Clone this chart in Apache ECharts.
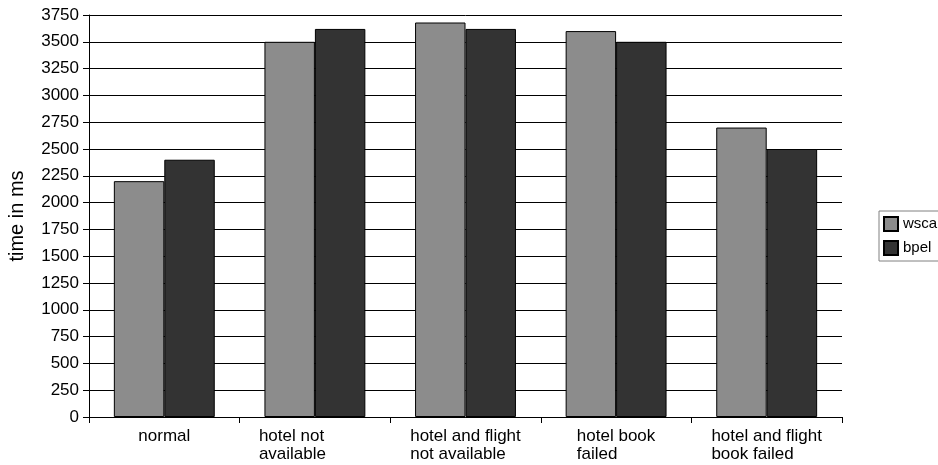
<!DOCTYPE html>
<html>
<head>
<meta charset="utf-8">
<script src="https://cdn.jsdelivr.net/npm/echarts@6/dist/echarts.min.js"></script>
<style>
html, body { margin: 0; padding: 0; background: #fff; }
#main { width: 938px; height: 465px; }
</style>
</head>
<body>
<div id="main"></div>
<script>
var categories = ['normal', 'hotel not\navailable', 'hotel and flight\nnot available', 'hotel book\nfailed', 'hotel and flight\nbook failed'];
var wsca = [2200, 3500, 3680, 3600, 2700];
var bpel = [2400, 3620, 3620, 3500, 2500];

var font = 'Liberation Sans, Arial, sans-serif';

option = {
  animation: false,
  backgroundColor: '#fff',
  textStyle: { fontFamily: font },
  grid: {
    left: 89,
    right: 96,
    top: 15,
    bottom: 48,
    outerBoundsMode: 'none'
  },
  legend: {
    orient: 'vertical',
    left: 879,
    top: 211,
    icon: 'rect',
    itemWidth: 14,
    itemHeight: 14,
    itemGap: 8,
    padding: [5, 6, 5, 4],
    borderColor: '#808080',
    borderWidth: 1,
    textStyle: { fontSize: 15, color: '#000', fontFamily: font },
    data: ['wsca', 'bpel']
  },
  xAxis: {
    type: 'category',
    data: categories,
    axisLine: { lineStyle: { color: '#000', width: 1 } },
    axisTick: { show: true, length: 6, lineStyle: { color: '#000' } },
    axisLabel: {
      margin: 10,
      color: '#000',
      fontSize: 17,
      lineHeight: 18,
      fontFamily: font,
      interval: 0,
      formatter: function (v, i) {
        var style = i === 1 ? 'w' : 'l';
        return v.split('\n').map(function (s) { return '{' + style + '|' + s + '}'; }).join('\n');
      },
      rich: {
        l: { fontSize: 17, lineHeight: 18, align: 'left', color: '#000', fontFamily: font },
        w: { fontSize: 17, lineHeight: 18, align: 'left', width: 112, color: '#000', fontFamily: font }
      }
    }
  },
  yAxis: {
    type: 'value',
    min: 0,
    max: 3750,
    interval: 250,
    name: 'time in ms',
    nameLocation: 'middle',
    nameGap: 62,
    nameTextStyle: { fontSize: 20, color: '#000', fontFamily: font, padding: [0, 0, 0, 0] },
    axisLine: { show: true, lineStyle: { color: '#000', width: 1 } },
    axisTick: { show: true, length: 6, lineStyle: { color: '#000' } },
    axisLabel: {
      margin: 10,
      color: '#000',
      fontSize: 17,
      fontFamily: font,
      formatter: function (v) { return String(v); }
    },
    splitLine: { show: true, lineStyle: { color: '#000', width: 1 } }
  },
  series: [
    {
      name: 'wsca',
      type: 'bar',
      data: wsca,
      barGap: '0%',
      barCategoryGap: '33%',
      itemStyle: { color: '#8c8c8c', borderColor: '#000', borderWidth: 1 }
    },
    {
      name: 'bpel',
      type: 'bar',
      data: bpel,
      itemStyle: { color: '#333333', borderColor: '#000', borderWidth: 1 }
    }
  ]
};

var myChart = echarts.init(document.getElementById('main'));
myChart.setOption(option);
</script>
</body>
</html>
